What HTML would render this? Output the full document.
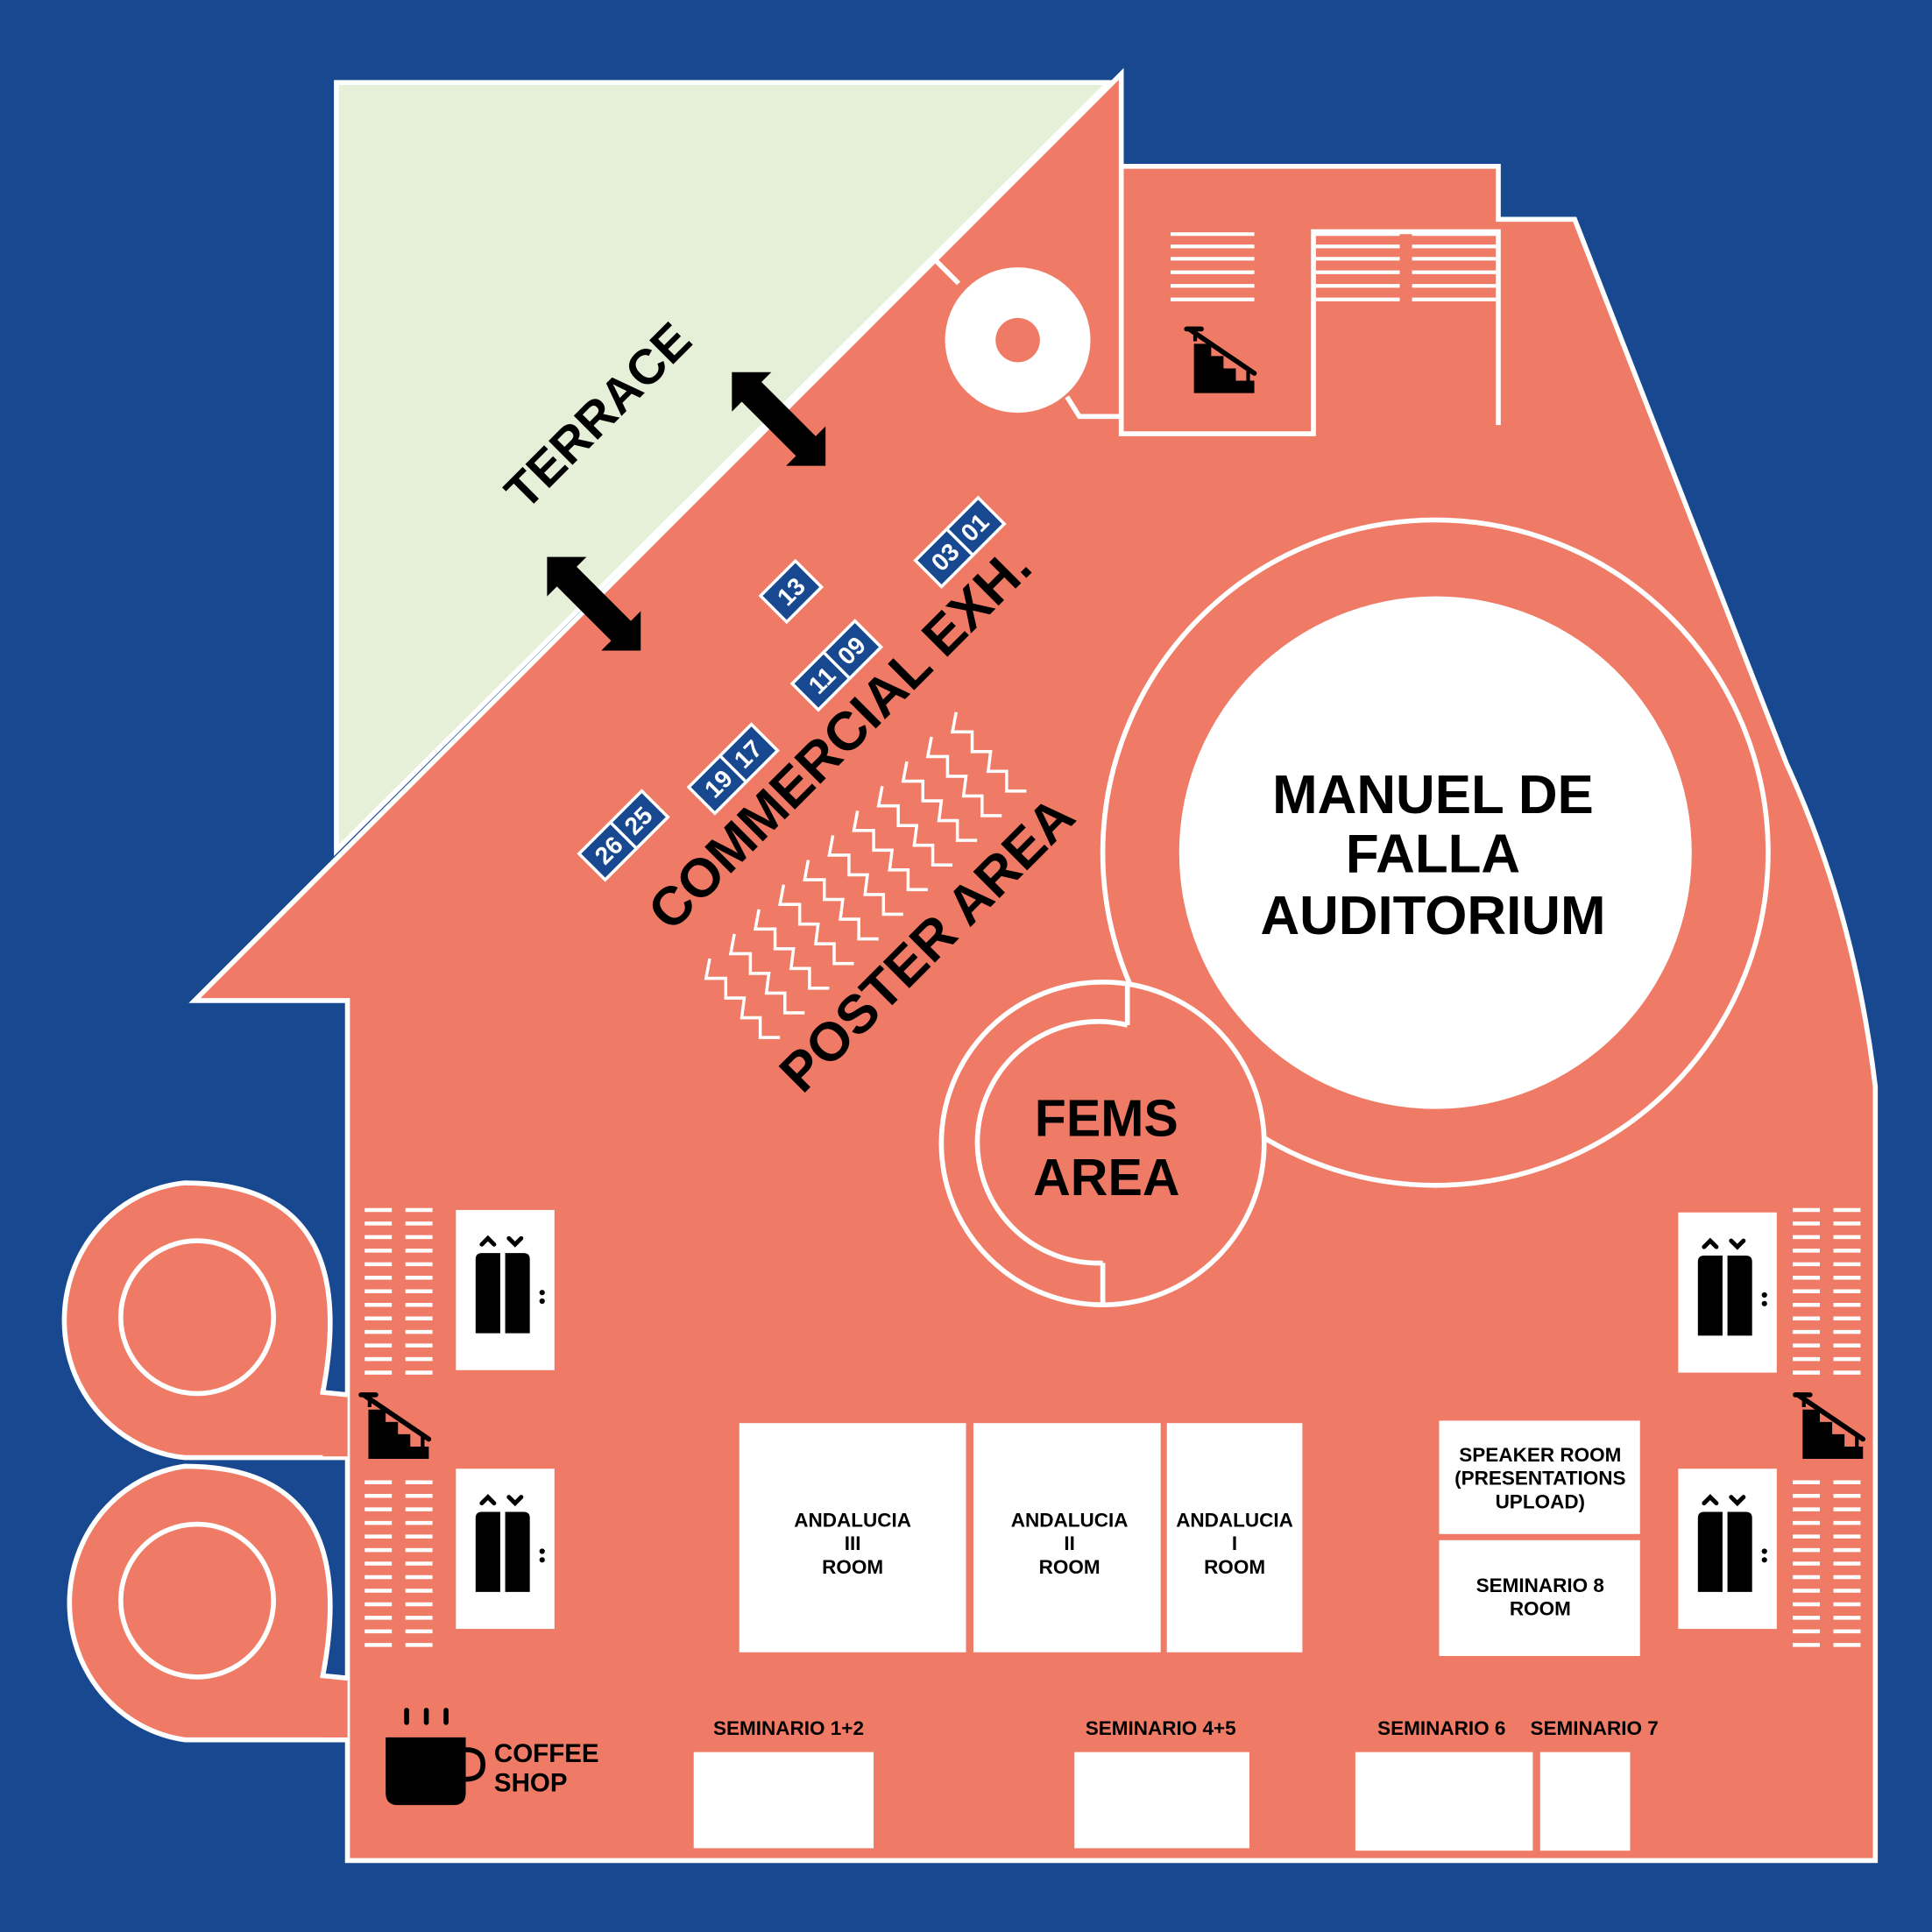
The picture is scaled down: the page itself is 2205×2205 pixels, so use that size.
<!DOCTYPE html>
<html><head><meta charset="utf-8"><style>
html,body{margin:0;padding:0;background:#18488F;}
svg{display:block}
text{font-family:"Liberation Sans",sans-serif;font-weight:bold;}
</style></head><body>
<svg width="2205" height="2205" viewBox="0 0 1568 1568" xmlns="http://www.w3.org/2000/svg">
<defs>
<g id="elev">
 <rect x="0" y="0" width="80" height="130" fill="#fff"/>
 <path d="M16,40 q0,-5 5,-5 h15 v65 h-20z M40,35 h15 q5,0 5,5 v60 h-20z" fill="#000"/>
 <path d="M21,28 l5,-5 l5,5 M43,23 l5,5 l5,-5" stroke="#000" stroke-width="3.5" fill="none" stroke-linecap="round"/>
 <circle cx="70" cy="67" r="2.2" fill="#000"/><circle cx="70" cy="74" r="2.2" fill="#000"/>
</g>
<g id="stripes">
 <g stroke="#fff" stroke-width="3.2">
 <path d="M0,0h22M0,11h22M0,22h22M0,33h22M0,44h22M0,55h22M0,66h22M0,77h22M0,88h22M0,99h22M0,110h22M0,121h22M0,132h22"/>
 <path d="M33,0h22M33,11h22M33,22h22M33,33h22M33,44h22M33,55h22M33,66h22M33,77h22M33,88h22M33,99h22M33,110h22M33,121h22M33,132h22"/>
 </g>
</g>
<g id="stairs">
 <path d="M2,2 L55,38" stroke="#000" stroke-width="4" stroke-linecap="round"/>
 <path d="M0,2h12" stroke="#000" stroke-width="4" stroke-linecap="round"/>
 <path d="M6,14 h14 v10 h10 v10 h10 v10 h15 v10 h-49z" fill="#000"/>
 <path d="M7,2v10M50,35v10" stroke="#000" stroke-width="3"/>
</g>
<g id="zz"><path d="M0,0 l-3,16 h16 v16 h15 l-2,16 h15 v16 h16" fill="none" stroke="#fff" stroke-width="2.5"/></g>
<g id="arrow"><path d="M-38,-38 L-6,-38 L-14,-30 L30,14 L38,6 L38,38 L6,38 L14,30 L-30,-14 L-38,-6z" fill="#000"/></g>
</defs>
<rect width="1568" height="1568" fill="#18488F"/>
<path d="M158,812 L910,60 L910,135 L1216,135 L1216,178 L1278,178 L1450,620 Q1505,740 1522,882 L1522,1510 L282,1510 L282,812 Z" fill="#EF7A65" stroke="#fff" stroke-width="4"/>
<path d="M273,67 L900,67 L273,690 Z" fill="#E6F0D8" stroke="#fff" stroke-width="4"/>
<g fill="#EF7A65" stroke="#fff" stroke-width="4">
 <path d="M282,1183 L150,1183 A108,112 0 0 1 150,960 C240,960 285,1010 262,1130 L282,1132"/>
 <path d="M282,1412 L150,1412 A108,112 0 0 1 150,1190 C240,1190 285,1240 262,1360 L282,1362"/>
 <circle cx="160" cy="1069" r="62"/><circle cx="160" cy="1299" r="62"/>
</g>
<rect x="262" y="1134" width="20" height="48" fill="#EF7A65"/>
<rect x="262" y="1364" width="20" height="46" fill="#EF7A65"/>
<g fill="none" stroke="#fff" stroke-width="4">
 <path d="M910,135 V352 H1066 V188 H1216 V345"/>
 <path d="M760,212 L778,230 M866,322 L876,338 H910"/>
</g>
<g stroke="#fff" stroke-width="3">
 <path d="M950,190h68M950,200h68M950,210h68M950,221h68M950,232h68M950,243h68"/>
 <path d="M1068,190h68M1068,200h68M1068,210h68M1068,221h68M1068,232h68M1068,243h68"/>
 <path d="M1146,190h68M1146,200h68M1146,210h68M1146,221h68M1146,232h68M1146,243h68"/>
</g>
<use href="#stairs" x="963" y="265"/>
<circle cx="826" cy="276" r="59" fill="#fff"/>
<circle cx="826" cy="276" r="18" fill="#EF7A65"/>
<circle cx="1165" cy="692" r="270" fill="#EF7A65" stroke="#fff" stroke-width="4"/>
<circle cx="1165" cy="692" r="208" fill="#fff"/>
<text x="1163" y="660" font-size="44" text-anchor="middle" fill="#000">MANUEL DE</text>
<text x="1163" y="708" font-size="44" text-anchor="middle" fill="#000">FALLA</text>
<text x="1163" y="758" font-size="44" text-anchor="middle" fill="#000">AUDITORIUM</text>
<circle cx="895" cy="928" r="131" fill="#EF7A65" stroke="#fff" stroke-width="4"/>
<path d="M915,832 A98,98 0 1 0 895,1025" fill="none" stroke="#fff" stroke-width="4"/>
<path d="M915,798 V832 M895,1025 V1058" stroke="#fff" stroke-width="4"/>
<text x="898" y="922" font-size="42" text-anchor="middle" fill="#000">FEMS</text>
<text x="898" y="970" font-size="42" text-anchor="middle" fill="#000">AREA</text>
<text transform="translate(495,347) rotate(-45)" font-size="40" text-anchor="middle" fill="#000">TERRACE</text>
<text transform="translate(692,610) rotate(-45)" font-size="44" text-anchor="middle" fill="#000">COMMERCIAL EXH.</text>
<text transform="translate(763,777) rotate(-45)" font-size="44" text-anchor="middle" fill="#000">POSTER AREA</text>
<use href="#arrow" x="632" y="340"/>
<use href="#arrow" x="482" y="490"/>
<g font-size="20" fill="#fff" text-anchor="middle">
 <g transform="translate(642,480) rotate(-45)"><rect x="-20" y="-15" width="40" height="30" fill="#18488F" stroke="#fff" stroke-width="2.5"/><text y="7">13</text></g>
 <g transform="translate(779,440) rotate(-45)"><rect x="-36" y="-15" width="72" height="30" fill="#18488F" stroke="#fff" stroke-width="2.5"/><path d="M0,-15V15" stroke="#fff" stroke-width="2.5"/><text x="-17" y="7">03</text><text x="17" y="7">01</text></g>
 <g transform="translate(679,540) rotate(-45)"><rect x="-36" y="-15" width="72" height="30" fill="#18488F" stroke="#fff" stroke-width="2.5"/><path d="M0,-15V15" stroke="#fff" stroke-width="2.5"/><text x="-17" y="7">11</text><text x="17" y="7">09</text></g>
 <g transform="translate(595,624) rotate(-45)"><rect x="-36" y="-15" width="72" height="30" fill="#18488F" stroke="#fff" stroke-width="2.5"/><path d="M0,-15V15" stroke="#fff" stroke-width="2.5"/><text x="-17" y="7">19</text><text x="17" y="7">17</text></g>
 <g transform="translate(506,678) rotate(-45)"><rect x="-36" y="-15" width="72" height="30" fill="#18488F" stroke="#fff" stroke-width="2.5"/><path d="M0,-15V15" stroke="#fff" stroke-width="2.5"/><text x="-17" y="7">26</text><text x="17" y="7">25</text></g>
</g>
<use href="#zz" x="776" y="578"/><use href="#zz" x="756" y="598"/><use href="#zz" x="736" y="618"/>
<use href="#zz" x="716" y="638"/><use href="#zz" x="696" y="658"/><use href="#zz" x="676" y="678"/>
<use href="#zz" x="656" y="698"/><use href="#zz" x="636" y="718"/><use href="#zz" x="616" y="738"/>
<use href="#zz" x="596" y="758"/><use href="#zz" x="576" y="778"/>
<use href="#elev" x="370" y="982"/><use href="#elev" x="370" y="1192"/>
<use href="#elev" x="1362" y="984"/><use href="#elev" x="1362" y="1192"/>
<use href="#stripes" x="296" y="982"/><use href="#stripes" x="296" y="1203"/>
<use href="#stripes" x="1455" y="982"/><use href="#stripes" x="1455" y="1203"/>
<use href="#stairs" x="293" y="1130"/><use href="#stairs" x="1457" y="1130"/>
<g fill="#fff">
 <rect x="600" y="1155" width="184" height="186"/>
 <rect x="790" y="1155" width="152" height="186"/>
 <rect x="947" y="1155" width="110" height="186"/>
 <rect x="1168" y="1153" width="163" height="92"/>
 <rect x="1168" y="1250" width="163" height="94"/>
 <rect x="563" y="1422" width="146" height="78"/>
 <rect x="872" y="1422" width="142" height="78"/>
 <rect x="1100" y="1422" width="144" height="80"/>
 <rect x="1250" y="1422" width="73" height="80"/>
</g>
<g font-size="16" fill="#000" text-anchor="middle">
 <text x="692" y="1239">ANDALUCIA</text><text x="692" y="1258">III</text><text x="692" y="1277">ROOM</text>
 <text x="868" y="1239">ANDALUCIA</text><text x="868" y="1258">II</text><text x="868" y="1277">ROOM</text>
 <text x="1002" y="1239">ANDALUCIA</text><text x="1002" y="1258">I</text><text x="1002" y="1277">ROOM</text>
 <text x="1250" y="1186">SPEAKER ROOM</text><text x="1250" y="1205">(PRESENTATIONS</text><text x="1250" y="1224">UPLOAD)</text>
 <text x="1250" y="1292">SEMINARIO 8</text><text x="1250" y="1311">ROOM</text>
 <text x="640" y="1408">SEMINARIO 1+2</text>
 <text x="942" y="1408">SEMINARIO 4+5</text>
 <text x="1170" y="1408">SEMINARIO 6</text>
 <text x="1294" y="1408">SEMINARIO 7</text>
</g>
<path d="M313,1410 h65 v45 q0,10 -10,10 h-45 q-10,0 -10,-10z" fill="#000"/>
<path d="M378,1420 q14,0 14,12 q0,12 -14,12" fill="none" stroke="#000" stroke-width="4"/>
<path d="M330,1388v10M346,1388v10M362,1388v10" stroke="#000" stroke-width="4" stroke-linecap="round"/>
<text x="401" y="1430" font-size="21" fill="#000">COFFEE</text>
<text x="401" y="1454" font-size="21" fill="#000">SHOP</text>
</svg>
</body></html>
